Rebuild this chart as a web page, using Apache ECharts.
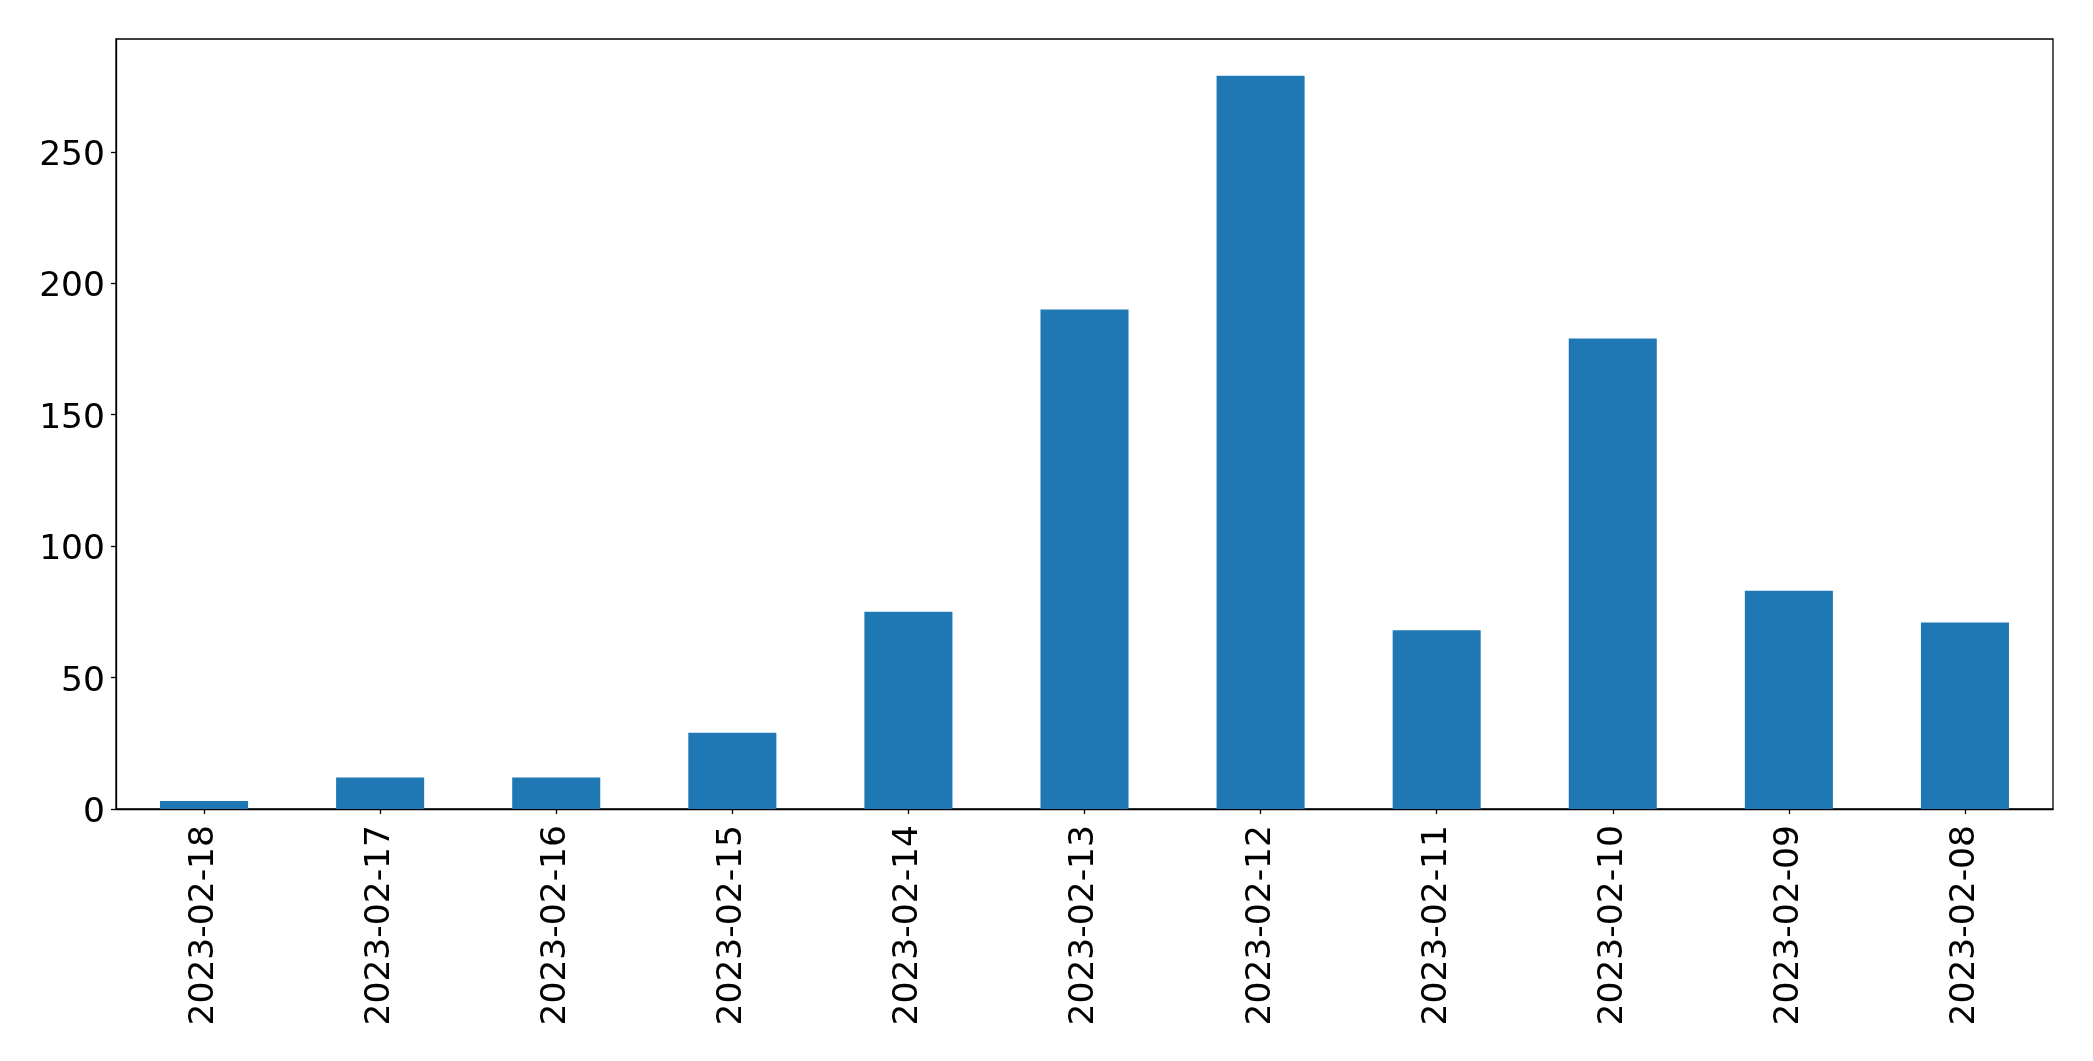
<!DOCTYPE html>
<html>
<head>
<meta charset="utf-8">
<script src="https://cdn.jsdelivr.net/npm/echarts@6/dist/echarts.min.js"></script>
<style>
html,body{margin:0;padding:0;background:#fff;}
#chart{width:2093px;height:1061px;}
</style>
</head>
<body>
<div id="chart"></div>
<script>
const categories = ['2023-02-18','2023-02-17','2023-02-16','2023-02-15','2023-02-14','2023-02-13','2023-02-12','2023-02-11','2023-02-10','2023-02-09','2023-02-08'];
const counts = [3, 12, 12, 29, 75, 190, 279, 68, 179, 83, 71];
const yTicks = [0, 50, 100, 150, 200, 250];
const yMax = 292.95;

const chart = echarts.init(document.getElementById('chart'), null, {renderer: 'canvas'});
const font = 'DejaVu Sans';
chart.setOption({
  animation: false,
  backgroundColor: '#ffffff',
  grid: {
    left: 116, right: 40, top: 39, bottom: 252,
    show: true, borderColor: '#000', borderWidth: 1.3, backgroundColor: 'transparent'
  },
  xAxis: {
    type: 'category',
    data: categories,
    boundaryGap: true,
    axisLine: {show: true, lineStyle: {color: '#000', width: 1.3}},
    axisTick: {show: true, alignWithLabel: true, length: 5, lineStyle: {color: '#000', width: 1.3}},
    axisLabel: {rotate: 90, margin: 16, fontSize: 34.5, color: '#000', fontFamily: font, interval: 0},
    splitLine: {show: false}
  },
  yAxis: {
    type: 'value',
    min: 0, max: yMax, interval: 50,
    axisLine: {show: true, lineStyle: {color: '#000', width: 1.3}},
    axisTick: {show: true, length: 5, lineStyle: {color: '#000', width: 1.3}, customValues: yTicks},
    axisLabel: {
      margin: 11, color: '#000', customValues: yTicks,
      formatter: function (v) { return '{t|' + v + '}'; },
      rich: {t: {fontSize: 34.5, fontFamily: font, color: '#000', padding: [8, 0, 0, 0]}}
    },
    splitLine: {show: false}
  },
  series: [{
    type: 'bar',
    data: counts,
    barWidth: '50%',
    itemStyle: {color: '#1f77b4'}
  }]
});
</script>
</body>
</html>
